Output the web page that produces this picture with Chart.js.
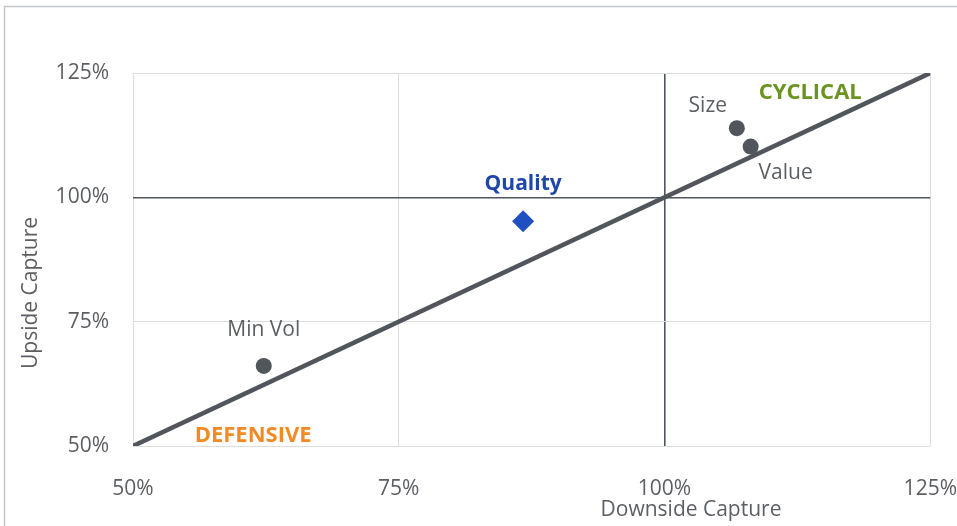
<!DOCTYPE html>
<html>
<head>
<meta charset="utf-8">
<script src="https://cdn.jsdelivr.net/npm/chart.js@4.4.1/dist/chart.umd.min.js"></script>
<style>
  html, body { margin: 0; padding: 0; background: #fff; }
  #wrap { width: 957px; height: 526px; position: relative; }
</style>
</head>
<body>
<div id="wrap"><canvas id="c" width="957" height="526"></canvas></div>
<script>
/* ---------- data ---------- */
const factors  = ['Min Vol', 'Quality', 'Size', 'Value'];
const downside = [62.3, 86.7, 106.8, 108.1];   // x, %
const upside   = [66.1, 95.2, 113.9, 110.2];   // y, %
const parityX  = [50, 125];
const parityY  = [50, 125];
const axisTicks = [50, 75, 100, 125];

const zones = [
  { text: 'CYCLICAL',  x: 113.7, y: 121.1, color: '#6b9322' },
  { text: 'DEFENSIVE', x: 61.3,  y: 52.0,  color: '#f28a26' }
];

/* ---------- style ---------- */
const FONT = "'Open Sans', 'Noto Sans', sans-serif";
const GREY_TXT = '#5b5f63';
const DARK = '#50565b';
const LIGHT_GRID = '#dcdcdc';

const pointColors = factors.map(f => f === 'Quality' ? '#1f4fc0' : DARK);
const pointStyles = factors.map(f => f === 'Quality' ? 'rectRot' : 'circle');
const pointRadius = factors.map(f => f === 'Quality' ? 11 : 8);
// label offsets relative to each point (px)
const labelStyle = {
  'Min Vol': { dx: 0,   dy: -36, color: GREY_TXT, bold: false },
  'Quality': { dx: 0,   dy: -37, color: '#1f46aa', bold: true },
  'Size':    { dx: -29, dy: -22, color: GREY_TXT, bold: false },
  'Value':   { dx: 35,  dy: 26,  color: GREY_TXT, bold: false }
};

const annotations = {
  id: 'annotations',
  beforeDraw(chart) {
    const ctx = chart.ctx;
    ctx.save();
    ctx.strokeStyle = '#c3c7cb';
    ctx.lineWidth = 1.5;
    ctx.beginPath();
    ctx.moveTo(4.5, 530);
    ctx.lineTo(4.5, 6.5);
    ctx.lineTo(960, 6.5);
    ctx.stroke();
    ctx.restore();
  },
  afterDatasetsDraw(chart) {
    const ctx = chart.ctx;
    const xs = chart.scales.x, ys = chart.scales.y;
    ctx.save();
    ctx.textAlign = 'center';
    ctx.textBaseline = 'middle';
    // point labels
    const meta = chart.getDatasetMeta(1);
    meta.data.forEach((pt, i) => {
      const s = labelStyle[factors[i]];
      ctx.font = (s.bold ? 'bold ' : '') + '21px ' + FONT;
      ctx.fillStyle = s.color;
      ctx.fillText(factors[i], pt.x + s.dx, pt.y + s.dy);
    });
    // zone labels
    zones.forEach(z => {
      ctx.font = 'bold 22px ' + FONT;
      ctx.fillStyle = z.color;
      ctx.fillText(z.text, xs.getPixelForValue(z.x), ys.getPixelForValue(z.y));
    });
    // axis titles
    ctx.font = '21px ' + FONT;
    ctx.fillStyle = GREY_TXT;
    ctx.fillText('Downside Capture', 691, 510);
    ctx.translate(31, 293);
    ctx.rotate(-Math.PI / 2);
    ctx.fillText('Upside Capture', 0, 0);
    ctx.restore();
  }
};

const gridColor = c => c.tick && c.tick.value === 100 ? DARK : LIGHT_GRID;
const gridWidth = c => c.tick && c.tick.value === 100 ? 1.6 : 1;

new Chart(document.getElementById('c'), {
  type: 'scatter',
  data: {
    datasets: [
      {
        label: 'Parity',
        data: parityX.map((x, i) => ({ x, y: parityY[i] })),
        showLine: true,
        borderColor: DARK,
        borderWidth: 4.5,
        pointRadius: 0,
        order: 2
      },
      {
        label: 'Factors',
        data: downside.map((x, i) => ({ x, y: upside[i] })),
        pointStyle: pointStyles,
        pointRadius: pointRadius,
        backgroundColor: pointColors,
        borderColor: pointColors,
        borderWidth: 0,
        order: 1
      }
    ]
  },
  options: {
    responsive: false,
    animation: false,
    layout: { padding: { top: 73, right: 0, bottom: 0, left: 0 } },
    plugins: { legend: { display: false }, tooltip: { enabled: false } },
    scales: {
      x: {
        type: 'linear', min: 50, max: 125,
        afterBuildTicks: s => { s.ticks = axisTicks.map(v => ({ value: v })); },
        afterFit: s => { s.height = 80; },
        grid: { color: gridColor, lineWidth: gridWidth, drawTicks: true, tickLength: 30, tickColor: 'rgba(0,0,0,0)' },
        border: { display: false },
        ticks: {
          padding: 0, color: GREY_TXT,
          font: { family: FONT, size: 21 },
          callback: v => v + '%'
        }
      },
      y: {
        type: 'linear', min: 50, max: 125,
        afterBuildTicks: s => { s.ticks = axisTicks.map(v => ({ value: v })); },
        afterFit: s => { s.width = 133; },
        grid: { color: gridColor, lineWidth: gridWidth, drawTicks: false },
        border: { display: false },
        ticks: {
          padding: 24, color: GREY_TXT,
          font: { family: FONT, size: 21 },
          callback: v => v + '%'
        }
      }
    }
  },
  plugins: [annotations]
});
</script>
</body>
</html>
